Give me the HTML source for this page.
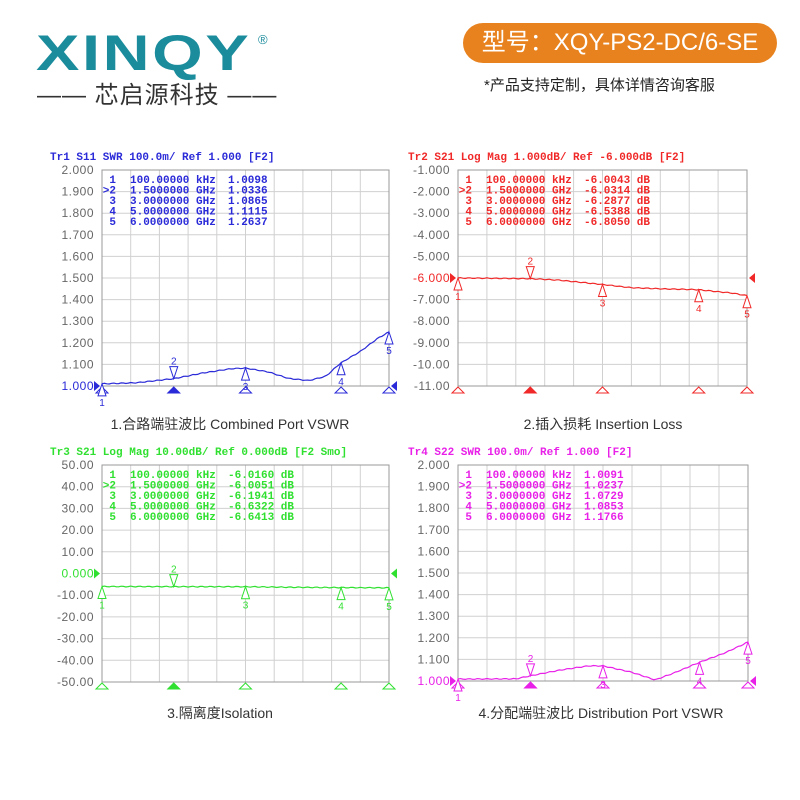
<!DOCTYPE html>
<html><head><meta charset="utf-8"><style>
body{margin:0;background:#fff;width:800px;height:800px;overflow:hidden;position:relative;font-family:"Liberation Sans","Noto Sans CJK SC",sans-serif}
.logo{position:absolute;left:36px;top:24px;font:bold 50px "Liberation Sans",sans-serif;color:#1b8c9c;letter-spacing:2px;transform:scaleX(1.3);transform-origin:left}
.reg{position:absolute;left:258px;top:32px;font-size:13px;color:#1b8c9c}
.sub{position:absolute;left:37px;top:75px;font-size:24px;color:#333;white-space:nowrap;letter-spacing:1px}
.pill{position:absolute;left:463px;top:23px;width:314px;height:40px;border-radius:20px;background:#e8821e;color:#fff;font-size:24px;line-height:40px;text-align:center}
.note{position:absolute;left:484px;top:74px;font-size:15px;color:#222}
.cap{position:absolute;font-size:14px;color:#333;white-space:nowrap;transform:translateX(-50%)}
svg{position:absolute;left:0;top:0}
</style></head><body>
<div class="logo">XINQY</div><div class="reg">®</div>
<div class="sub">——&nbsp;芯启源科技&nbsp;——</div>
<div class="pill">型号：XQY-PS2-DC/6-SE</div>
<div class="note">*产品支持定制，具体详情咨询客服</div>
<div class="cap" style="left:230px;top:414px">1.合路端驻波比 Combined Port VSWR</div>
<div class="cap" style="left:603px;top:414px">2.插入损耗 Insertion Loss</div>
<div class="cap" style="left:220px;top:703px">3.隔离度Isolation</div>
<div class="cap" style="left:601px;top:703px">4.分配端驻波比 Distribution  Port VSWR</div>
<svg id="s" width="800" height="800" xmlns="http://www.w3.org/2000/svg"></svg>
<script>
var C=[
{x0:102,x1:389,y0:170,y1:386,col:"#2a2ad8",head:"Tr1 S11 SWR 100.0m/ Ref 1.000 [F2]",hx:50,lx:94,
 labels:["2.000","1.900","1.800","1.700","1.600","1.500","1.400","1.300","1.200","1.100","1.000"],top:2,bot:1,ref:10,
 rows:[["1","100.00000 kHz","1.0098"],[">2","1.5000000 GHz","1.0336"],["3","3.0000000 GHz","1.0865"],["4","5.0000000 GHz","1.1115"],["5","6.0000000 GHz","1.2637"]],
 pts:[[0,1.01],[0.12,1.015],[0.25,1.034],[0.35,1.06],[0.45,1.08],[0.5,1.083],[0.58,1.065],[0.65,1.035],[0.72,1.025],[0.78,1.045],[0.83,1.105],[0.9,1.16],[0.96,1.22],[1,1.25]]},
{x0:458,x1:747,y0:170,y1:386,col:"#f02828",head:"Tr2 S21 Log Mag 1.000dB/ Ref -6.000dB [F2]",hx:408,lx:450,
 labels:["-1.000","-2.000","-3.000","-4.000","-5.000","-6.000","-7.000","-8.000","-9.000","-10.00","-11.00"],top:-1,bot:-11,ref:5,
 rows:[["1","100.00000 kHz","-6.0043 dB"],[">2","1.5000000 GHz","-6.0314 dB"],["3","3.0000000 GHz","-6.2877 dB"],["4","5.0000000 GHz","-6.5388 dB"],["5","6.0000000 GHz","-6.8050 dB"]],
 pts:[[0,-6],[0.25,-6.03],[0.35,-6.1],[0.5,-6.3],[0.6,-6.45],[0.7,-6.5],[0.83,-6.54],[0.95,-6.7],[1,-6.82]]},
{x0:102,x1:389,y0:465,y1:682,col:"#30e030",head:"Tr3 S21 Log Mag 10.00dB/ Ref 0.000dB [F2 Smo]",hx:50,lx:94,
 labels:["50.00","40.00","30.00","20.00","10.00","0.000","-10.00","-20.00","-30.00","-40.00","-50.00"],top:50,bot:-50,ref:5,
 rows:[["1","100.00000 kHz","-6.0160 dB"],[">2","1.5000000 GHz","-6.0051 dB"],["3","3.0000000 GHz","-6.1941 dB"],["4","5.0000000 GHz","-6.6322 dB"],["5","6.0000000 GHz","-6.6413 dB"]],
 pts:[[0,-6],[0.5,-6.1],[0.7,-6.4],[1,-6.6]]},
{x0:458,x1:748,y0:465,y1:681,col:"#e820e8",head:"Tr4 S22 SWR 100.0m/ Ref 1.000 [F2]",hx:408,lx:450,
 labels:["2.000","1.900","1.800","1.700","1.600","1.500","1.400","1.300","1.200","1.100","1.000"],top:2,bot:1,ref:10,
 rows:[["1","100.00000 kHz","1.0091"],[">2","1.5000000 GHz","1.0237"],["3","3.0000000 GHz","1.0729"],["4","5.0000000 GHz","1.0853"],["5","6.0000000 GHz","1.1766"]],
 pts:[[0,1.009],[0.2,1.01],[0.25,1.024],[0.35,1.05],[0.45,1.07],[0.5,1.07],[0.6,1.04],[0.68,1.005],[0.75,1.04],[0.83,1.085],[0.92,1.13],[1,1.18]]}];
var h="";
C.forEach(function(c){
 var w=c.x1-c.x0,H=c.y1-c.y0;
 for(var i=1;i<10;i++){var x=c.x0+w*i/10,y=c.y0+H*i/10;
  h+='<line x1="'+x+'" y1="'+c.y0+'" x2="'+x+'" y2="'+c.y1+'" stroke="#d0d0d0"/>';
  h+='<line x1="'+c.x0+'" y1="'+y+'" x2="'+c.x1+'" y2="'+y+'" stroke="#d0d0d0"/>';}
 h+='<rect x="'+c.x0+'" y="'+c.y0+'" width="'+w+'" height="'+H+'" fill="none" stroke="#999"/>';
 h+='<text x="'+c.hx+'" y="'+(c.y0-10)+'" font-family="Liberation Mono,monospace" font-size="11" font-weight="bold" fill="'+c.col+'">'+c.head+'</text>';
 c.labels.forEach(function(l,i){var y=c.y0+H*i/10+4;
  h+='<text x="'+c.lx+'" y="'+y+'" text-anchor="end" font-family="Liberation Sans,sans-serif" font-size="12" letter-spacing="0.5" fill="'+(i==c.ref?c.col:"#666")+'">'+l+'</text>';});
 c.rows.forEach(function(r,i){var y=c.y0+13+i*10.5;
  h+='<g font-family="Liberation Mono,monospace" font-size="11" font-weight="bold" fill="'+c.col+'"><text x="'+(c.x0+14)+'" y="'+y+'" text-anchor="end">'+r[0]+'</text><text x="'+(c.x0+28)+'" y="'+y+'">'+r[1]+'</text><text x="'+(c.x0+126)+'" y="'+y+'">'+r[2]+'</text></g>';});
 function Y(v){return c.y0+(c.top-v)/(c.top-c.bot)*H;}
 var d="";for(var k=0;k<=120;k++){var t=k/120,j=0;while(j<c.pts.length-2&&c.pts[j+1][0]<t)j++;
  var a=c.pts[j],b=c.pts[j+1],v=a[1]+(b[1]-a[1])*(t-a[0])/(b[0]-a[0]);v+=(c.top-c.bot)*0.002*Math.sin(k*1.7);
  d+=(k?"L":"M")+(c.x0+w*t).toFixed(1)+","+Y(v).toFixed(1);}
 h+='<path d="'+d+'" fill="none" stroke="'+c.col+'" stroke-width="1.2"/>';
 var ry=c.y0+H*c.ref/10;
 h+='<path d="M'+(c.x0-8)+','+(ry-5)+'L'+(c.x0-2)+','+ry+'L'+(c.x0-8)+','+(ry+5)+'Z" fill="'+c.col+'"/>';
 h+='<path d="M'+(c.x1+8)+','+(ry-5)+'L'+(c.x1+2)+','+ry+'L'+(c.x1+8)+','+(ry+5)+'Z" fill="'+c.col+'"/>';
 [0,0.25,0.5,0.833,1].forEach(function(f,i){var x=c.x0+w*f;
  h+='<path d="M'+(x-6)+','+(c.y1+7)+'L'+x+','+(c.y1+1)+'L'+(x+6)+','+(c.y1+7)+'Z" fill="'+(i==1?c.col:"#fff")+'" stroke="'+c.col+'"/>';
  var j=0;while(j<c.pts.length-2&&c.pts[j+1][0]<f)j++;var a=c.pts[j],b=c.pts[j+1];var vy=Y(a[1]+(b[1]-a[1])*(f-a[0])/(b[0]-a[0]));
  if(i==1){h+='<path d="M'+(x-4)+','+(vy-12)+'L'+(x+4)+','+(vy-12)+'L'+x+','+vy+'Z" fill="#fff" stroke="'+c.col+'"/><text x="'+x+'" y="'+(vy-14)+'" text-anchor="middle" font-size="10" fill="'+c.col+'" font-family="Liberation Sans,sans-serif">2</text>';}
  else{h+='<path d="M'+(x-4)+','+(vy+12)+'L'+(x+4)+','+(vy+12)+'L'+x+','+vy+'Z" fill="#fff" stroke="'+c.col+'"/><text x="'+x+'" y="'+(vy+22)+'" text-anchor="middle" font-size="10" fill="'+c.col+'" font-family="Liberation Sans,sans-serif">'+(i<1?1:i+1)+'</text>';}
 });
});
document.getElementById("s").innerHTML=h;
</script>
</body></html>
